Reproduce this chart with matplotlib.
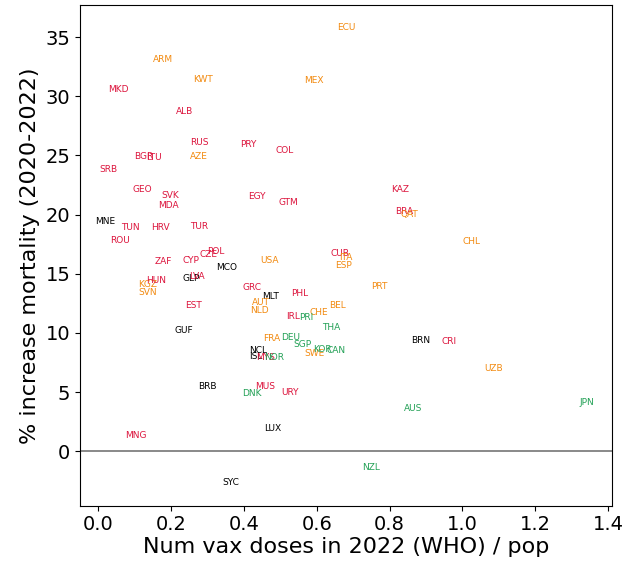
import numpy as np
import matplotlib
matplotlib.use('Agg')
import matplotlib.pyplot as plt

# Коды стран, доза вакцины на человека (2022), прирост смертности (%), группа цвета
codes = ['ECU', 'ARM', 'KWT', 'MEX', 'MKD', 'ALB', 'RUS', 'PRY', 'COL', 'BGR',
         'LTU', 'AZE', 'SRB', 'GEO', 'SVK', 'MDA', 'EGY', 'GTM', 'KAZ', 'BRA',
         'QAT', 'MNE', 'TUN', 'HRV', 'TUR', 'ROU', 'CHL', 'POL', 'CZE', 'CYP',
         'ZAF', 'USA', 'CUB', 'ITA', 'ESP', 'MCO', 'GLP', 'LVA', 'KGZ', 'HUN',
         'SVN', 'EST', 'GRC', 'MLT', 'PHL', 'AUT', 'NLD', 'PRT', 'BEL', 'CHE',
         'IRL', 'PRI', 'THA', 'GUF', 'BRN', 'CRI', 'FRA', 'DEU', 'SGP', 'SWE',
         'KOR', 'CAN', 'NCL', 'ISL', 'MYS', 'NOR', 'UZB', 'BRB', 'MUS', 'DNK',
         'URY', 'AUS', 'JPN', 'LUX', 'MNG', 'NZL', 'SYC']
vax = [0.681, 0.179, 0.288, 0.591, 0.055, 0.236, 0.277, 0.412, 0.511, 0.126,
       0.154, 0.277, 0.027, 0.121, 0.198, 0.192, 0.437, 0.522, 0.830, 0.841,
       0.854, 0.019, 0.088, 0.170, 0.277, 0.060, 1.025, 0.324, 0.302, 0.255,
       0.179, 0.470, 0.665, 0.679, 0.673, 0.352, 0.255, 0.272, 0.137, 0.159,
       0.137, 0.261, 0.423, 0.473, 0.552, 0.448, 0.442, 0.772, 0.657, 0.607,
       0.536, 0.571, 0.640, 0.234, 0.885, 0.964, 0.475, 0.527, 0.560, 0.593,
       0.615, 0.654, 0.440, 0.434, 0.459, 0.484, 1.085, 0.299, 0.459, 0.423,
       0.527, 0.865, 1.343, 0.478, 0.104, 0.750, 0.365]
mort = [35.8, 33.1, 31.4, 31.3, 30.6, 28.7, 26.1, 25.9, 25.4, 24.9,
        24.85, 24.9, 23.8, 22.1, 21.6, 20.8, 21.5, 21.0, 22.1, 20.3,
        20.0, 19.4, 18.9, 18.9, 19.0, 17.8, 17.7, 16.9, 16.6, 16.1,
        16.0, 16.1, 16.7, 16.4, 15.7, 15.5, 14.6, 14.8, 14.1, 14.4,
        13.4, 12.3, 13.8, 13.1, 13.3, 12.6, 11.9, 13.9, 12.3, 11.7,
        11.4, 11.3, 10.5, 10.2, 9.4, 9.3, 9.5, 9.6, 9.0, 8.3,
        8.6, 8.5, 8.5, 8.0, 7.95, 7.95, 7.0, 5.5, 5.5, 4.9,
        5.0, 3.6, 4.1, 1.9, 1.3, -1.35, -2.6]
groups = ['o', 'o', 'o', 'o', 'r', 'r', 'r', 'r', 'r', 'r',
          'r', 'o', 'r', 'r', 'r', 'r', 'r', 'r', 'r', 'r',
          'o', 'k', 'r', 'r', 'r', 'r', 'o', 'r', 'r', 'r',
          'r', 'o', 'r', 'o', 'o', 'k', 'k', 'r', 'o', 'r',
          'o', 'r', 'r', 'k', 'r', 'o', 'o', 'o', 'o', 'o',
          'r', 'g', 'g', 'k', 'k', 'r', 'o', 'g', 'g', 'o',
          'g', 'g', 'k', 'k', 'r', 'g', 'o', 'k', 'r', 'g',
          'r', 'g', 'g', 'k', 'r', 'g', 'k']

colors = {'r': 'crimson', 'o': '#f28a10', 'g': '#22a055', 'k': 'black'}

fig = plt.figure(figsize=(6.3, 5.67), dpi=100)
ax = fig.add_axes([0.127, 0.108, 0.844, 0.883])

for c, x, y, g in zip(codes, vax, mort, groups):
    ax.text(x, y, c, color=colors[g], fontsize=6.5, ha='center', va='center')

ax.axhline(0, color='gray', lw=1.3)
ax.set_xlim(-0.05, 1.41)
ax.set_ylim(-4.6, 37.7)
ax.set_xticks(np.arange(0, 1.41, 0.2))
ax.set_yticks(np.arange(0, 36, 5))
ax.tick_params(labelsize=14)
ax.set_xlabel('Num vax doses in 2022 (WHO) / pop', fontsize=16, labelpad=2)
ax.set_ylabel('% increase mortality (2020-2022)', fontsize=16, labelpad=4)

plt.savefig('out.png', dpi=100)
